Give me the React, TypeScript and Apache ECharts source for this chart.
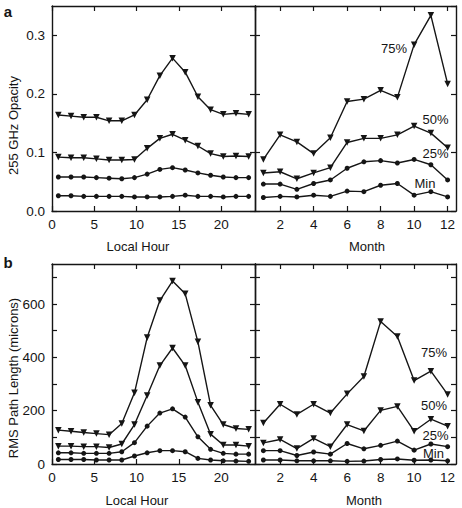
import React, { useEffect, useRef } from "react";
import * as echarts from "echarts";

const HOURS = [0.75, 2.25, 3.75, 5.25, 6.75, 8.25, 9.75, 11.25, 12.75, 14.25, 15.75, 17.25, 18.75, 20.25, 21.75, 23.25];
const MONTHS = [1, 2, 3, 4, 5, 6, 7, 8, 9, 10, 11, 12];
const MONTH_TICKS = [2, 4, 6, 8, 10, 12];

const OPAC_HOUR_75 = [0.164, 0.162, 0.16, 0.16, 0.154, 0.154, 0.164, 0.19, 0.231, 0.261, 0.237, 0.195, 0.173, 0.165, 0.167, 0.165];
const OPAC_HOUR_50 = [0.092, 0.091, 0.091, 0.089, 0.087, 0.087, 0.088, 0.107, 0.124, 0.131, 0.121, 0.111, 0.098, 0.093, 0.094, 0.093];
const OPAC_HOUR_25 = [0.058, 0.058, 0.058, 0.057, 0.056, 0.055, 0.057, 0.063, 0.071, 0.074, 0.07, 0.065, 0.061, 0.058, 0.057, 0.057];
const OPAC_HOUR_MIN = [0.026, 0.026, 0.025, 0.025, 0.025, 0.025, 0.024, 0.024, 0.024, 0.025, 0.027, 0.025, 0.025, 0.024, 0.025, 0.025];

const OPAC_MONTH_75 = [0.088, 0.13, 0.118, 0.098, 0.125, 0.187, 0.191, 0.206, 0.194, 0.284, 0.334, 0.217];
const OPAC_MONTH_50 = [0.065, 0.067, 0.055, 0.065, 0.074, 0.117, 0.124, 0.124, 0.13, 0.145, 0.133, 0.108];
const OPAC_MONTH_25 = [0.046, 0.046, 0.037, 0.047, 0.053, 0.073, 0.084, 0.086, 0.082, 0.088, 0.079, 0.053];
const OPAC_MONTH_MIN = [0.023, 0.025, 0.024, 0.027, 0.025, 0.034, 0.033, 0.044, 0.047, 0.027, 0.033, 0.024];

const RMS_HOUR_75 = [127, 123, 118, 114, 110, 152, 267, 474, 613, 686, 638, 458, 220, 148, 133, 130];
const RMS_HOUR_50 = [67, 67, 65, 65, 62, 75, 148, 257, 369, 435, 369, 232, 112, 71, 71, 67];
const RMS_HOUR_25 = [42, 42, 40, 40, 40, 46, 80, 142, 191, 207, 176, 102, 55, 40, 37, 37];
const RMS_HOUR_MIN = [17, 17, 17, 15, 15, 15, 30, 42, 50, 50, 46, 21, 15, 12, 11, 10];

const RMS_MONTH_75 = [154, 224, 186, 224, 191, 263, 328, 534, 478, 313, 348, 261];
const RMS_MONTH_50 = [79, 92, 58, 96, 65, 148, 124, 201, 216, 123, 168, 142];
const RMS_MONTH_25 = [50, 50, 32, 45, 37, 77, 57, 70, 86, 52, 75, 65];
const RMS_MONTH_MIN = [15, 15, 12, 12, 12, 10, 11, 17, 19, 14, 15, 12];

const INK = "#151515";
const FONT = "Liberation Sans";

export default function App() {
  const ref = useRef<HTMLDivElement>(null);
  useEffect(() => {
    const chart = echarts.init(ref.current!, null, { renderer: "svg" });

    const grids = [
      { left: 52, top: 6, width: 203, height: 205 },
      { left: 255, top: 6, width: 201, height: 205 },
      { left: 52, top: 264, width: 203, height: 200 },
      { left: 255, top: 264, width: 201, height: 200 },
    ];

    const axisLine = { show: true, onZero: false, lineStyle: { color: INK, width: 1.4 } };
    const tickBase = { show: true, inside: true, length: 5, lineStyle: { color: INK, width: 1.2 } };
    const labelBase = { color: INK, fontSize: 13.5, fontFamily: FONT };

    const xAxis: any[] = [];
    const yAxis: any[] = [];

    const makeX = (gi: number, kind: "hour" | "month") => {
      for (const pos of ["bottom", "top"]) {
        const showLabel = pos === "bottom";
        if (kind === "hour") {
          xAxis.push({
            type: "value", gridIndex: gi, position: pos, min: 0, max: 24, interval: 5,
            axisLine, splitLine: { show: false },
            axisTick: tickBase,
            axisLabel: {
              ...labelBase, show: showLabel, margin: 6, showMaxLabel: false,
              formatter: (v: number) => (v % 5 === 0 && v < 24 ? String(v) : ""),
            },
          });
        } else {
          xAxis.push({
            type: "value", gridIndex: gi, position: pos, min: 0.5, max: 12.5,
            axisLine, splitLine: { show: false },
            axisTick: { ...tickBase, customValues: MONTH_TICKS },
            axisLabel: { ...labelBase, show: showLabel, margin: 6, customValues: MONTH_TICKS },
          });
        }
      }
    };
    const makeY = (gi: number, kind: "opac" | "rms", labels: boolean) => {
      for (const pos of ["left", "right"]) {
        const showLabel = labels && pos === "left";
        if (kind === "opac") {
          yAxis.push({
            type: "value", gridIndex: gi, position: pos, min: 0, max: 0.35, interval: 0.1,
            axisLine, splitLine: { show: false }, axisTick: tickBase,
            axisLabel: {
              ...labelBase, show: showLabel, margin: 7, showMaxLabel: false,
              formatter: (v: number) => (Math.abs(v * 10 - Math.round(v * 10)) < 1e-6 && v < 0.34 ? v.toFixed(1) : ""),
            },
          });
        } else {
          yAxis.push({
            type: "value", gridIndex: gi, position: pos, min: 0, max: 750, interval: 100,
            axisLine, splitLine: { show: false }, axisTick: tickBase,
            axisLabel: {
              ...labelBase, show: showLabel, margin: 7, showMaxLabel: false,
              formatter: (v: number) => (v % 200 === 0 && v < 700 ? String(v) : ""),
            },
          });
        }
      }
    };

    makeX(0, "hour"); makeY(0, "opac", true);
    makeX(1, "month"); makeY(1, "opac", false);
    makeX(2, "hour"); makeY(2, "rms", true);
    makeX(3, "month"); makeY(3, "rms", false);

    const mk = (gi: number, xs: number[], ys: number[], tri: boolean) => ({
      type: "line",
      xAxisIndex: gi * 2,
      yAxisIndex: gi * 2,
      data: xs.map((x, i) => [x, ys[i]]),
      symbol: tri ? "triangle" : "circle",
      symbolRotate: tri ? 180 : 0,
      symbolSize: tri ? 6.5 : 5,
      showAllSymbol: true,
      lineStyle: { color: INK, width: 1.4 },
      itemStyle: { color: INK },
      emphasis: { disabled: true },
      z: 3,
    });

    const series = [
      mk(0, HOURS, OPAC_HOUR_75, true),
      mk(0, HOURS, OPAC_HOUR_50, true),
      mk(0, HOURS, OPAC_HOUR_25, false),
      mk(0, HOURS, OPAC_HOUR_MIN, false),
      mk(1, MONTHS, OPAC_MONTH_75, true),
      mk(1, MONTHS, OPAC_MONTH_50, true),
      mk(1, MONTHS, OPAC_MONTH_25, false),
      mk(1, MONTHS, OPAC_MONTH_MIN, false),
      mk(2, HOURS, RMS_HOUR_75, true),
      mk(2, HOURS, RMS_HOUR_50, true),
      mk(2, HOURS, RMS_HOUR_25, false),
      mk(2, HOURS, RMS_HOUR_MIN, false),
      mk(3, MONTHS, RMS_MONTH_75, true),
      mk(3, MONTHS, RMS_MONTH_50, true),
      mk(3, MONTHS, RMS_MONTH_25, false),
      mk(3, MONTHS, RMS_MONTH_MIN, false),
    ];

    const txt = (text: string, x: number, y: number, extra: any = {}) => ({
      type: "text", x, y, rotation: extra.rotation || 0, z: 10,
      style: {
        text, fill: INK, fontSize: extra.fontSize || 13, fontFamily: FONT,
        fontWeight: extra.fontWeight || "normal", align: "center", verticalAlign: "middle",
      },
    });

    const graphic = [
      txt("a", 8, 11, { fontWeight: "bold", fontSize: 15 }),
      txt("b", 8, 262, { fontWeight: "bold", fontSize: 15 }),
      txt("255 GHz Opacity", 13, 125.5, { rotation: Math.PI / 2 }),
      txt("RMS Path Length (microns)", 13, 378, { rotation: Math.PI / 2 }),
      txt("Local Hour", 138, 246),
      txt("Month", 367, 246),
      txt("Local Hour", 137, 500),
      txt("Month", 364, 500),
      txt("75%", 394, 48),
      txt("50%", 435.5, 119),
      txt("25%", 435.5, 153.5),
      txt("Min", 425, 183),
      txt("75%", 434, 352),
      txt("50%", 434, 405),
      txt("25%", 435.5, 435),
      txt("Min", 433.5, 453),
    ];

    chart.setOption({
      animation: false,
      backgroundColor: "#fff",
      grid: grids,
      xAxis,
      yAxis,
      series,
      graphic,
    });
    return () => chart.dispose();
  }, []);
  return (
    <div
      ref={ref}
      style={{ position: "fixed", left: 0, top: 0, width: 462, height: 508, background: "#fff" }}
    />
  );
}
